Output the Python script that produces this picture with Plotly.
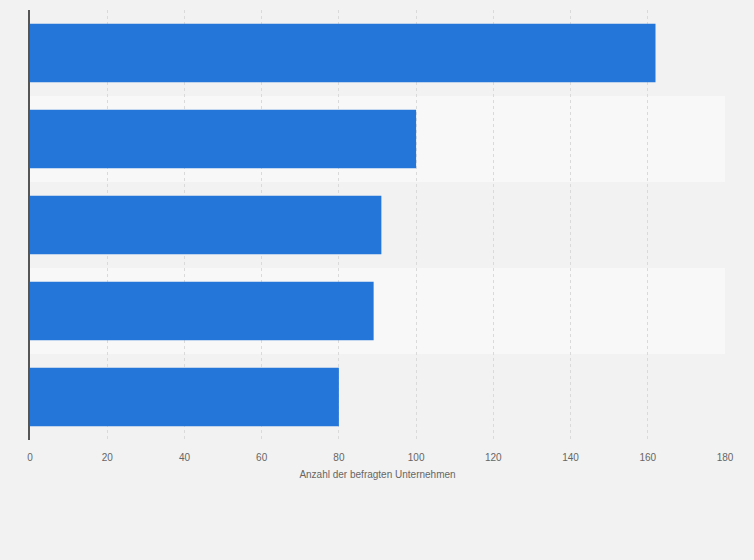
import plotly.graph_objects as go

# Kategorien sind im Original nicht beschriftet
kategorien = ["Kategorie 1", "Kategorie 2", "Kategorie 3", "Kategorie 4", "Kategorie 5"]
anzahl = [162, 100, 91, 89, 80]
x_ticks = [0, 20, 40, 60, 80, 100, 120, 140, 160, 180]

fig = go.Figure()
fig.add_trace(go.Bar(
    y=kategorien, x=anzahl, orientation="h",
    marker=dict(color="#2576d9", line=dict(width=0)),
    width=0.68,
))

# abwechselnde Hintergrundstreifen
for i, k in enumerate(kategorien):
    fig.add_shape(type="rect", xref="paper", yref="y",
                  x0=0, x1=1, y0=i - 0.5, y1=i + 0.5,
                  fillcolor="#f2f2f2" if i % 2 == 0 else "#f8f8f8",
                  line=dict(width=0), layer="below")

fig.update_layout(
    width=754, height=560,
    margin=dict(l=30, r=29, t=10, b=120),
    paper_bgcolor="#f2f2f2", plot_bgcolor="#f2f2f2",
    showlegend=False,
    font=dict(family="Liberation Sans, Arial", size=10, color="#666666"),
)
fig.update_xaxes(
    range=[0, 180], tickvals=x_ticks, showgrid=True,
    gridcolor="#dadada", griddash="dot", gridwidth=1,
    zeroline=False, showline=False,
    ticks="", ticklabelstandoff=10,
    title=dict(text="Anzahl der befragten Unternehmen", standoff=8,
               font=dict(size=10, color="#666666")),
)
fig.update_yaxes(
    showticklabels=False, showgrid=False,
    showline=True, linecolor="#555555", linewidth=1.5, zeroline=False,
    range=[4.5, -0.5],
)

fig.write_html("out.html", config={"displayModeBar": False},
               post_script="document.body.style.margin='0';document.body.style.background='#f2f2f2';")
